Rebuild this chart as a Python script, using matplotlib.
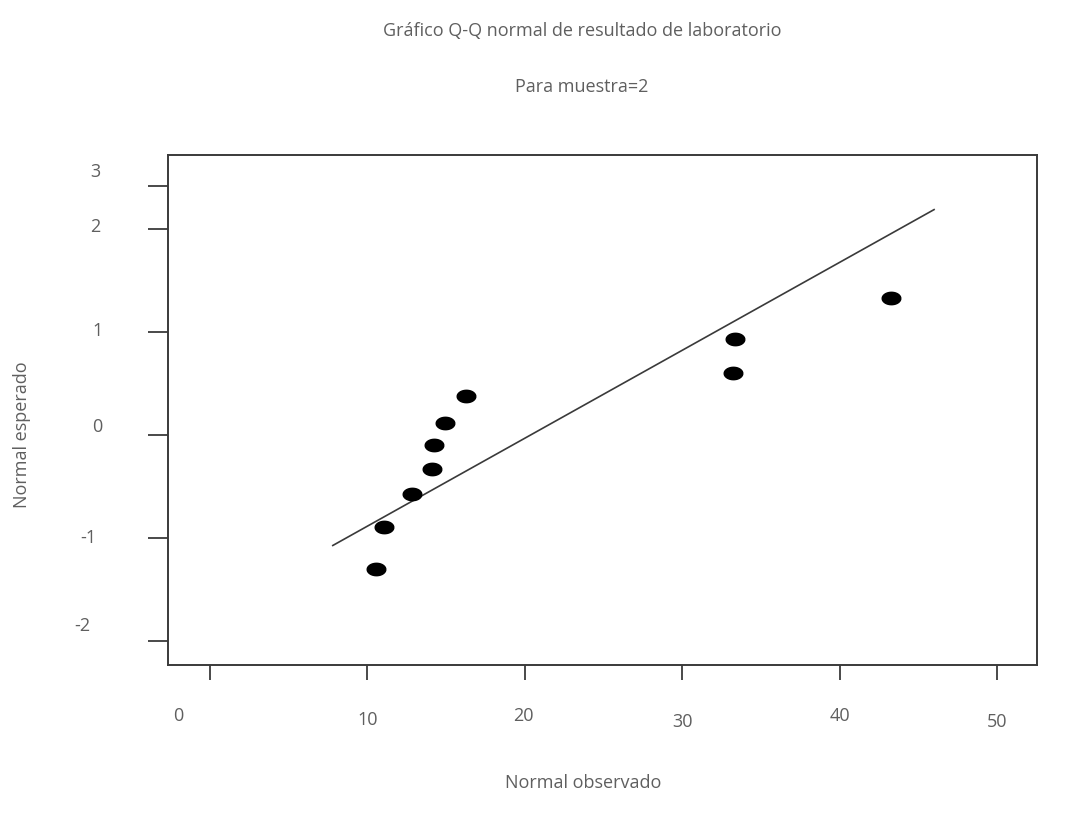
import matplotlib
matplotlib.use("Agg")
import matplotlib.pyplot as plt
from matplotlib.path import Path
import numpy as np

# datos
obs = [10.55, 11.05, 12.83, 14.10, 14.23, 14.93, 16.26, 33.23, 33.35, 43.27]
esp = [-1.30, -0.89, -0.57, -0.33, -0.09, 0.12, 0.38, 0.60, 0.93, 1.33]
linea_x = [7.8, 46.0]
linea_y = [-1.07, 2.19]

x_ticks = [0, 10, 20, 30, 40, 50]
x_labels = ["0", "10", "20", "30", "40", "50"]
y_ticks = [-2, -1, 0, 1, 2, 2.42]
y_labels = ["-2", "-1", "0", "1", "2", "3"]

titulo = "Gráfico Q-Q normal de resultado de laboratorio"
subtitulo = "Para muestra=2"

plt.rcParams["font.family"] = ["Open Sans", "DejaVu Sans"]
gris = "#5f5f5f"
oscuro = "#3a3a3a"
fs = 13

W, H = 1070, 815
fig = plt.figure(figsize=(W / 100, H / 100), dpi=100)
ax = fig.add_axes([168 / W, 1 - 665 / H, (1037 - 168) / W, (665 - 155) / H])

ax.set_xlim(-2.67, 52.54)
ax.set_ylim(-2.23, 2.72)

# linea de referencia
ax.plot(linea_x, linea_y, color=oscuro, lw=1.2)

# marcador eliptico
t = np.linspace(0, 2 * np.pi, 40)
elipse = Path(np.column_stack([1.5 * np.cos(t), np.sin(t)]))
ax.scatter(obs, esp, marker=elipse, s=180, color="black", zorder=3)

for s in ax.spines.values():
    s.set_color(oscuro)
    s.set_linewidth(1.4)

ax.set_xticks(x_ticks)
ax.set_xticklabels([])
ax.set_yticks(y_ticks)
ax.set_yticklabels([])
ax.tick_params(axis="y", direction="out", length=14.5, width=1.3, color=oscuro)
ax.tick_params(axis="x", direction="out", length=11, width=1.3, color=oscuro)

# etiquetas desplazadas como en el original (pixeles)
y_off = [(-86, 15), (-80, 0), (-71, 8), (-70, 1), (-73, 2), (-73, 14)]
for v, lab, (dx, dy) in zip(y_ticks, y_labels, y_off):
    ax.annotate(lab, xy=(0, v), xycoords=ax.get_yaxis_transform(),
                xytext=(dx, dy), textcoords="offset pixels",
                ha="center", va="center", fontsize=fs, color=gris)

x_off = [(-32, -51), (0, -55), (-1, -51), (0, -57), (0, -51), (0, -57)]
for v, lab, (dx, dy) in zip(x_ticks, x_labels, x_off):
    ax.annotate(lab, xy=(v, 0), xycoords=ax.get_xaxis_transform(),
                xytext=(dx, dy), textcoords="offset pixels",
                ha="center", va="center", fontsize=fs, color=gris)

fig.text(582 / W, 1 - 31 / H, titulo, ha="center", va="center", fontsize=fs, color=gris)
fig.text(582 / W, 1 - 87 / H, subtitulo, ha="center", va="center", fontsize=fs, color=gris)
fig.text(583 / W, 1 - 783 / H, "Normal observado", ha="center", va="center", fontsize=fs, color=gris)
fig.text(22 / W, 1 - 435 / H, "Normal esperado", ha="center", va="center",
         rotation=90, fontsize=fs, color=gris)

fig.savefig("out.png", dpi=100)
